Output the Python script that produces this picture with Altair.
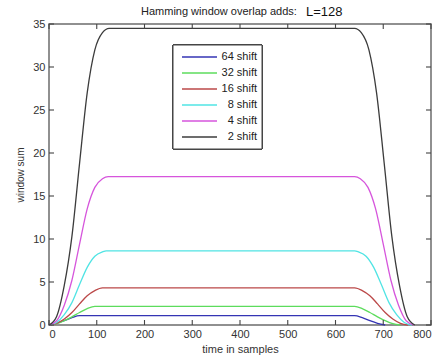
import altair as alt
import pandas as pd

FONT = "Liberation Sans"

names = ["64 shift", "32 shift", "16 shift", "8 shift", "4 shift", "2 shift"]
colors = ["#3434b4", "#5cdc5c", "#bb4848", "#50e4e4", "#d655dc", "#3c3c3c"]

x64 = [0, 16, 32, 48, 64, 640, 656, 672, 688, 704]
y64 = [0, 0.2, 0.5, 0.85, 1.08, 1.08, 0.85, 0.5, 0.2, 0]

x32 = [0, 16, 32, 48, 64, 80, 96, 640, 656, 672, 688, 704, 720, 736]
y32 = [0, 0.15, 0.5, 0.95, 1.45, 1.9, 2.16, 2.16, 1.9, 1.45, 0.95, 0.5, 0.15, 0]

x16 = [0, 16, 32, 48, 64, 80, 96, 112, 640, 656, 672, 688, 704, 720, 736, 752]
y16 = [0, 0.2, 0.7, 1.45, 2.45, 3.4, 4.0, 4.31, 4.31, 4.0, 3.4, 2.45, 1.45, 0.7, 0.2, 0]

x8 = [0, 16, 32, 48, 64, 80, 96, 112, 120, 640, 648, 664, 680, 696, 712, 728, 744, 760]
y8 = [0, 0.3, 1.2, 2.6, 4.7, 6.7, 8.0, 8.5, 8.62, 8.62, 8.5, 8.0, 6.7, 4.7, 2.6, 1.2, 0.3, 0]

x4 = [0, 16, 32, 48, 64, 80, 96, 112, 124, 640, 652, 668, 684, 700, 716, 732, 748, 764]
y4 = [0, 0.5, 2.3, 5.2, 9.4, 13.5, 16.0, 17.0, 17.25, 17.25, 17.0, 16.0, 13.5, 9.4, 5.2, 2.3, 0.5, 0]

x2 = [0, 16, 32, 48, 64, 80, 96, 112, 126, 640, 654, 670, 686, 702, 718, 734, 750, 766]
y2 = [0, 1.0, 4.6, 10.3, 18.8, 27.0, 32.0, 34.0, 34.5, 34.5, 34.0, 32.0, 27.0, 18.8, 10.3, 4.6, 1.0, 0]

x_ticks = [0, 100, 200, 300, 400, 500, 600, 700, 800]
y_ticks = [0, 5, 10, 15, 20, 25, 30, 35]

title_main = "Hamming window overlap adds:"
title_extra = "L=128"

rows = []
for name, xs, ys in zip(names, [x64, x32, x16, x8, x4, x2], [y64, y32, y16, y8, y4, y2]):
    for a, b in zip(xs, ys):
        rows.append({"series": name, "t": a, "v": b})
df = pd.DataFrame(rows)
legend_df = pd.DataFrame({"series": names})
xt_df = pd.DataFrame({"tick_t": x_ticks})
yt_df = pd.DataFrame({"tick_v": y_ticks})

W, H = 382, 301
TK = 5

xs_main = alt.Scale(domain=[0, 800], nice=False, zero=False)
ys_main = alt.Scale(domain=[0, 35], nice=False)
color_scale = alt.Scale(domain=names, range=colors)

lines = alt.Chart(df).mark_line(strokeWidth=1.3, interpolate="monotone").encode(
    x=alt.X("t:Q", scale=xs_main,
            axis=alt.Axis(title="time in samples", values=x_ticks, ticks=False, domain=False,
                          grid=False, labelPadding=3, titlePadding=4, labelFontSize=11,
                          titleFontSize=11)),
    y=alt.Y("v:Q", scale=ys_main,
            axis=alt.Axis(title="window sum", values=y_ticks, ticks=False, domain=False,
                          grid=False, labelPadding=4, titlePadding=7, labelFontSize=11,
                          titleFontSize=10)),
    color=alt.Color("series:N", scale=color_scale, legend=None),
)

# inward-pointing tick marks on all four sides of the frame (shared scales)
rule_style = dict(strokeWidth=1.1, color="#444444")
top_ticks = alt.Chart(xt_df).mark_rule(**rule_style).encode(
    x=alt.X("tick_t:Q"), y=alt.value(0), y2=alt.value(TK))
bottom_ticks = alt.Chart(xt_df).mark_rule(**rule_style).encode(
    x=alt.X("tick_t:Q"), y=alt.value(H - TK), y2=alt.value(H))
left_ticks = alt.Chart(yt_df).mark_rule(**rule_style).encode(
    y=alt.Y("tick_v:Q"), x=alt.value(0), x2=alt.value(TK))
right_ticks = alt.Chart(yt_df).mark_rule(**rule_style).encode(
    y=alt.Y("tick_v:Q"), x=alt.value(W - TK), x2=alt.value(W))

plot = alt.layer(lines, top_ticks, bottom_ticks, left_ticks, right_ticks)

# legend box drawn inside the plot
leg_y = alt.Y("series:N", sort=names,
              scale=alt.Scale(type="point", domain=names, range=[33, 113], padding=0),
              axis=None)
leg_box = alt.Chart(legend_df).mark_rect(
    fill="white", stroke="#444", strokeWidth=1
).encode(x=alt.value(124), x2=alt.value(213), y=alt.value(21), y2=alt.value(125))
leg_rules = alt.Chart(legend_df).mark_rule(strokeWidth=1.3).encode(
    x=alt.value(133), x2=alt.value(168), y=leg_y,
    color=alt.Color("series:N", scale=color_scale, legend=None),
)
leg_text = alt.Chart(legend_df).mark_text(
    align="right", baseline="middle", fontSize=11, font=FONT, color="#222"
).encode(x=alt.value(208), y=leg_y, text="series:N")

title_a = alt.Chart(pd.DataFrame({"txt": [title_main]})).mark_text(
    align="left", baseline="alphabetic", fontSize=11, font=FONT, color="#222"
).encode(x=alt.value(92), y=alt.value(-9), text="txt:N")
title_b = alt.Chart(pd.DataFrame({"txt": [title_extra]})).mark_text(
    align="left", baseline="alphabetic", fontSize=13, font=FONT, color="#111"
).encode(x=alt.value(257), y=alt.value(-8), text="txt:N")

chart = alt.layer(
    plot, leg_box, leg_rules, leg_text, title_a, title_b
).resolve_scale(
    y="independent"
).properties(
    width=W, height=H,
    autosize=alt.AutoSizeParams(type="none"),
    padding={"left": 49, "top": 24, "right": 9, "bottom": 33},
).configure(
    font=FONT,
    background="white",
).configure_view(
    stroke="#6c6c6c", strokeWidth=1.5
).configure_axis(
    labelFont=FONT, titleFont=FONT, labelColor="#333", titleColor="#333",
    titleFontWeight="normal"
)

chart.save("out.html", embed_options={"renderer": "svg", "actions": False})
